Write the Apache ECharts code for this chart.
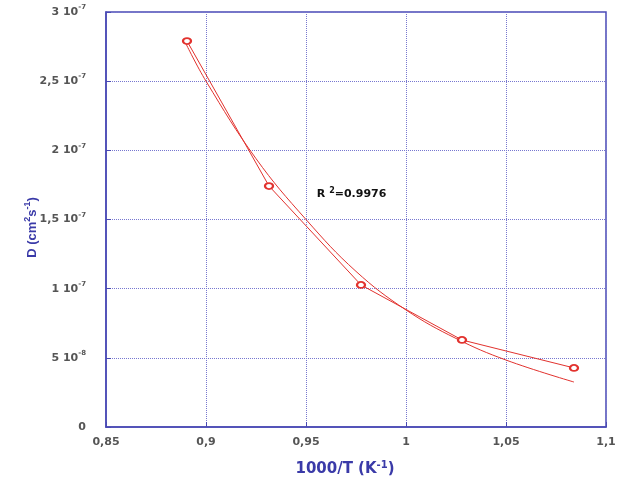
<!DOCTYPE html>
<html>
<head>
<meta charset="utf-8">
<script src="https://cdn.jsdelivr.net/npm/echarts@6/dist/echarts.min.js"></script>
<style>html,body{margin:0;padding:0;background:#fff}#c{width:625px;height:484px}</style>
</head>
<body>
<div id="c"></div>
<script>
// measured data points (1000/T, D)
const xData = [0.8905, 0.9315, 0.9775, 1.028, 1.084];
const yData = [2.79e-7, 1.742e-7, 1.027e-7, 0.629e-7, 0.427e-7];
// fitted curve
const fitX = [0.89, 0.90, 0.925, 0.95, 0.975, 1.00, 1.025, 1.05, 1.084];
const fitY = [2.77e-7, 2.50e-7, 1.94e-7, 1.50e-7, 1.125e-7, 0.846e-7, 0.64e-7, 0.484e-7, 0.325e-7];
const xTickLabels = ['0,85', '0,9', '0,95', '1', '1,05', '1,1'];
const yTickLabels = ['0', '5 10{s|-8}', '1 10{s|-7}', '1,5 10{s|-7}', '2 10{s|-7}', '2,5 10{s|-7}', '3 10{s|-7}'];
const r2Text = 'R {s|2}=0.9976';

const chart = echarts.init(document.getElementById('c'));
const blue = '#4a4ab4';
const red = '#e2322e';
const grid = '#7777d0';
const tickFont = 'DejaVu Sans';
chart.setOption({
  backgroundColor: '#fff',
  animation: false,
  grid: { left: 106, right: 19, top: 12, bottom: 57, show: true, borderColor: blue, borderWidth: 1.5 },
  xAxis: {
    type: 'value', min: 0.85, max: 1.1, interval: 0.05,
    axisLine: { lineStyle: { color: blue, width: 1.5 } },
    axisTick: { inside: true, length: 5, lineStyle: { color: blue } },
    splitLine: { show: true, lineStyle: { color: grid, type: [1, 1], width: 1 } },
    axisLabel: {
      margin: 10, color: '#555', fontFamily: tickFont, fontSize: 11, fontWeight: 'bold',
      formatter: (v) => xTickLabels[Math.round((v - 0.85) / 0.05)]
    },
    name: '1000/T (K{s|-1})', nameLocation: 'middle', nameGap: 33,
    nameTextStyle: {
      color: '#3a3aa8', fontFamily: tickFont, fontSize: 15, fontWeight: 'bold', padding: [0, 22, 0, 0],
      rich: { s: { fontSize: 10, fontWeight: 'bold', fontFamily: tickFont, color: '#3a3aa8', verticalAlign: 'top', lineHeight: 19 } }
    }
  },
  yAxis: {
    type: 'value', min: 0, max: 3e-7, interval: 5e-8,
    axisLine: { lineStyle: { color: blue, width: 1.5 } },
    axisTick: { inside: true, length: 5, lineStyle: { color: blue } },
    splitLine: { show: true, lineStyle: { color: grid, type: [1, 1], width: 1 } },
    axisLabel: {
      margin: 20, color: '#555', fontFamily: tickFont, fontSize: 11, fontWeight: 'bold',
      formatter: (v) => yTickLabels[Math.round(v / 5e-8)],
      rich: { s: { fontSize: 7, fontWeight: 'bold', fontFamily: tickFont, color: '#555', verticalAlign: 'top', lineHeight: 16 } }
    },
    name: 'D (cm{s|2}s{s|-1})', nameLocation: 'middle', nameGap: 65, nameRotate: 90, nameMoveOverlap: false,
    nameTextStyle: {
      color: '#3a3aa8', fontFamily: 'Liberation Sans', fontSize: 13, fontWeight: 'bold', padding: [0, 16, 0, 0],
      rich: { s: { fontSize: 9, fontWeight: 'bold', fontFamily: 'Liberation Sans', color: '#3a3aa8', verticalAlign: 'top', lineHeight: 18 } }
    }
  },
  series: [
    {
      type: 'line', data: xData.map((x, i) => [x, yData[i]]),
      symbol: 'emptyCircle', symbolSize: [8, 6],
      lineStyle: { color: red, width: 1 }, itemStyle: { color: red, borderWidth: 1 },
      markPoint: {
        symbol: 'circle', symbolSize: 0,
        data: [{ coord: [0.9728, 1.68e-7] }],
        label: {
          show: true, formatter: r2Text, color: '#111', fontFamily: tickFont,
          fontSize: 11, fontWeight: 'bold',
          rich: { s: { fontSize: 8, fontWeight: 'bold', fontFamily: tickFont, color: '#111', verticalAlign: 'top', lineHeight: 16 } }
        }
      }
    },
    {
      type: 'line', data: fitX.map((x, i) => [x, fitY[i]]), smooth: 0.4,
      symbol: 'none', lineStyle: { color: red, width: 1 }
    }
  ]
});
</script>
</body>
</html>
